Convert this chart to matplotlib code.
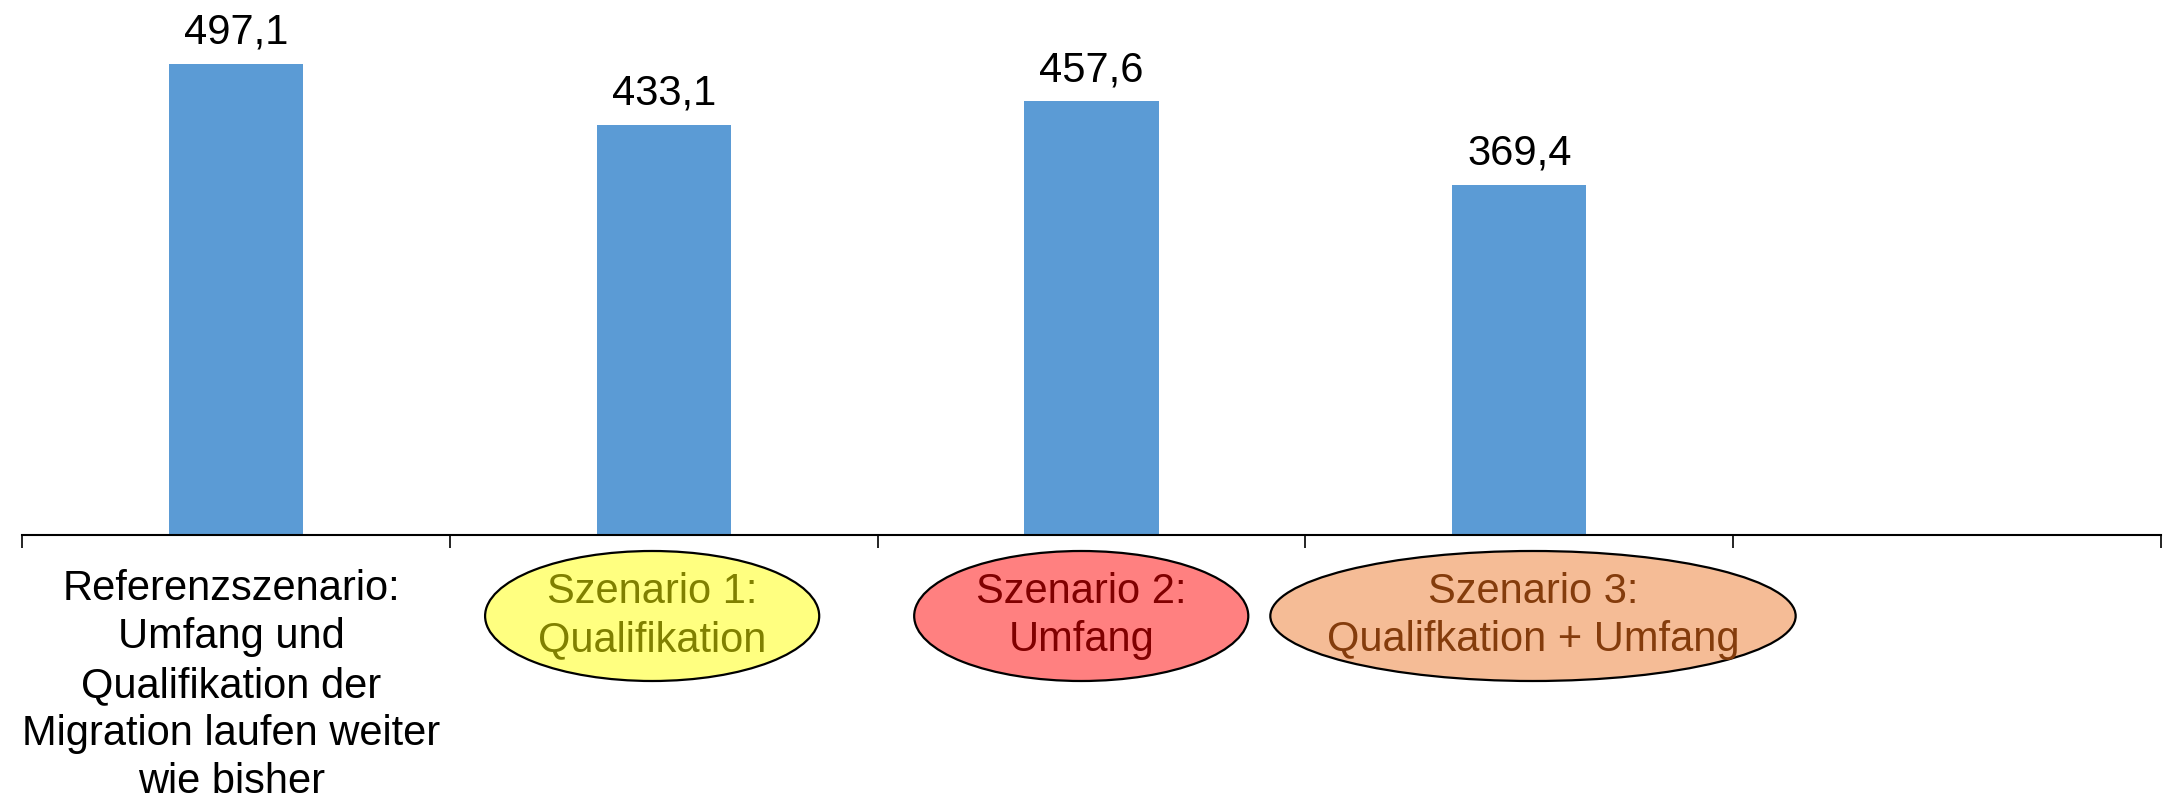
import matplotlib
matplotlib.use("Agg")
import matplotlib.pyplot as plt
import matplotlib.transforms as mtransforms
from matplotlib.patches import Ellipse

plt.rcParams['font.family'] = ['Liberation Sans', 'DejaVu Sans']

# Data
categories = [
    "Referenzszenario:\nUmfang und\nQualifikation der\nMigration laufen weiter\nwie bisher",
    "Szenario 1:\nQualifikation",
    "Szenario 2:\nUmfang",
    "Szenario 3:\nQualifkation + Umfang",
    "",
]
values = [497.1, 433.1, 457.6, 369.4, 0.8]
show_value = [True, True, True, True, False]

# Styling for the scenario badges (index 0 is plain text, last is empty)
badge_fill = [None, "#FFFF80", "#FF8080", "#F5BC96", None]
badge_text = ["#000000", "#808000", "#800000", "#843C0C", "#000000"]
badge_dx = [0.0, -0.027, -0.024, 0.032, 0.0]      # centre shift, category units
badge_w = [0.0, 0.781, 0.781, 1.228, 0.0]          # width, category units

W, H, DPI = 2163, 802, 100
fig = plt.figure(figsize=(W / DPI, H / DPI), dpi=DPI)
ax_left, ax_right, ax_base = 22, 2161, 535
ax = fig.add_axes([ax_left / W, (H - ax_base) / H, (ax_right - ax_left) / W, ax_base / H])

x = list(range(len(values)))
ax.bar(x, values, width=0.314, color="#5B9BD5", zorder=2)
ax.set_xlim(-0.5, len(values) - 0.5)
ax.set_ylim(0, ax_base / 0.9475)

for s in ("top", "right", "left"):
    ax.spines[s].set_visible(False)
ax.spines["bottom"].set_linewidth(1.5)
ax.spines["bottom"].set_color("black")
ax.set_yticks([])
ax.set_xticks([i - 0.5 for i in range(len(values) + 1)])
ax.set_xticklabels([])
ax.tick_params(axis="x", direction="out", length=9.5, width=1.2, color="black")

for xi, v, show in zip(x, values, show_value):
    if show:
        ax.annotate(f"{v:.1f}".replace(".", ","), (xi, v), xytext=(0, 14.4),
                    textcoords="offset points", ha="center", va="baseline",
                    fontsize=30, color="black")

trans = mtransforms.blended_transform_factory(ax.transData, ax.transAxes)
px = 1.0 / ax_base  # one pixel in axes-fraction units (vertical)

for i, label in enumerate(categories):
    if not label:
        continue
    if badge_fill[i] is None:
        ax.text(x[i] - 0.01, -(569 - ax_base) * px, label, transform=trans, ha="center",
                va="top", fontsize=30, color=badge_text[i], linespacing=1.27,
                clip_on=False)
    else:
        cy = -(616 - ax_base) * px
        ell = Ellipse((x[i] + badge_dx[i], cy), badge_w[i], 130 * px,
                      transform=trans, facecolor=badge_fill[i], edgecolor="black",
                      linewidth=1.6, clip_on=False, zorder=3)
        ax.add_patch(ell)
        ax.text(x[i] + badge_dx[i], cy, label, transform=trans, ha="center",
                va="center", fontsize=30, color=badge_text[i], linespacing=1.25,
                clip_on=False, zorder=4)

fig.savefig("out.png", dpi=DPI)
